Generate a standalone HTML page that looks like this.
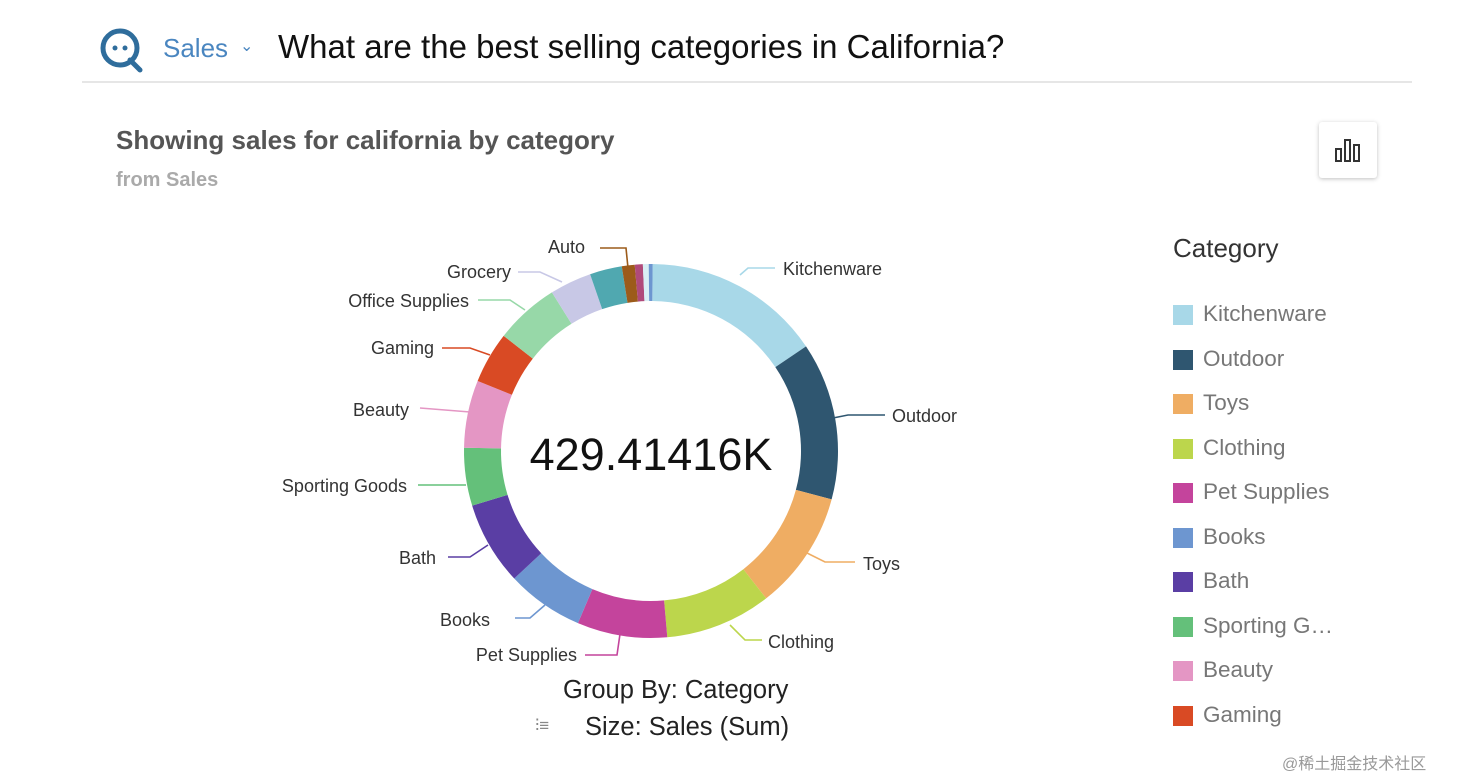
<!DOCTYPE html>
<html><head><meta charset="utf-8"><style>
body{margin:0;width:1474px;height:778px;background:#fff;font-family:"Liberation Sans","DejaVu Sans",sans-serif;position:relative;overflow:hidden}
.a{position:absolute;white-space:nowrap}
</style></head><body>
<svg class="a" style="left:98px;top:26px" width="52" height="50" viewBox="0 0 52 50">
<circle cx="22" cy="22" r="17" fill="none" stroke="#2f6d9c" stroke-width="5"/>
<line x1="32" y1="34" x2="42" y2="44" stroke="#2f6d9c" stroke-width="5" stroke-linecap="round"/>
<circle cx="17" cy="22" r="2.5" fill="#2f6d9c"/><circle cx="27" cy="22" r="2.5" fill="#2f6d9c"/>
</svg>
<div class="a" style="left:163px;top:33px;font-size:26px;color:#4a86c0">Sales</div>
<div class="a" style="left:240px;top:36px;font-size:16px;color:#4a86c0">⌄</div>
<div class="a" style="left:278px;top:28px;font-size:33px;color:#111">What are the best selling categories in California?</div>
<div class="a" style="left:82px;top:81px;width:1330px;height:2px;background:#e6e6e6"></div>
<div class="a" style="left:116px;top:125px;font-size:26px;font-weight:bold;color:#555">Showing sales for california by category</div>
<div class="a" style="left:116px;top:169px;font-size:20px;color:#aaa;font-weight:bold">from Sales</div>
<div class="a" style="left:1319px;top:122px;width:58px;height:56px;box-shadow:0 1px 4px rgba(0,0,0,.25);border-radius:3px;background:#fff"></div>
<svg class="a" style="left:1333px;top:137px" width="30" height="28"><g fill="none" stroke="#333" stroke-width="2"><rect x="3" y="12" width="5" height="12"/><rect x="12" y="3" width="5" height="21"/><rect x="21" y="8" width="5" height="16"/></g></svg>
<svg class="a" style="left:0;top:0" width="1474" height="778" id="s">
<g fill="none" stroke-width="1.6">
<path d="M740 275 L748 268 L775 268" stroke="#a8d8e8"/>
<path d="M833 418 L848 415 L885 415" stroke="#2f5670"/>
<path d="M805 552 L825 562 L855 562" stroke="#efad63"/>
<path d="M730 625 L745 640 L762 640" stroke="#bcd64c"/>
<path d="M620 634 L617 655 L585 655" stroke="#c4449c"/>
<path d="M545 605 L530 618 L515 618" stroke="#6d96d0"/>
<path d="M488 545 L470 557 L448 557" stroke="#5a3ea4"/>
<path d="M466 485 L418 485" stroke="#64c07a"/>
<path d="M470 412 L420 408" stroke="#e496c4"/>
<path d="M490 355 L470 348 L442 348" stroke="#d94a24"/>
<path d="M525 310 L510 300 L478 300" stroke="#97d8a8"/>
<path d="M562 282 L540 272 L518 272" stroke="#c8c8e6"/>
<path d="M628 268 L626 248 L600 248" stroke="#9c5b1a"/>
</g>
<g font-size="18" fill="#333" font-family="Liberation Sans,sans-serif">
<text x="783" y="275">Kitchenware</text><text x="892" y="422">Outdoor</text>
<text x="863" y="570">Toys</text><text x="768" y="648">Clothing</text>
<g text-anchor="end">
<text x="577" y="661">Pet Supplies</text><text x="490" y="626">Books</text>
<text x="436" y="564">Bath</text><text x="407" y="492">Sporting Goods</text>
<text x="409" y="416">Beauty</text><text x="434" y="354">Gaming</text>
<text x="469" y="307">Office Supplies</text><text x="511" y="278">Grocery</text>
<text x="585" y="253">Auto</text></g>
</g>
<text x="651" y="470" text-anchor="middle" font-size="45" fill="#111" font-family="Liberation Sans,sans-serif">429.41416K</text>
</svg>
<div class="a" style="left:563px;top:676px;font-size:25.5px;color:#222">Group By: Category</div>
<div class="a" style="left:535px;top:716px;font-size:17px;color:#888">⫶≡</div>
<div class="a" style="left:585px;top:713px;font-size:25.5px;color:#222">Size: Sales (Sum)</div>
<div class="a" style="left:1173px;top:233px;font-size:26px;color:#333">Category</div>
<div id="lg"></div>
<div class="a" style="left:1282px;top:750px;font-size:16px;color:#999;font-family:'Liberation Sans','Noto Sans CJK SC',sans-serif">@稀土掘金技术社区</div>
<script>
var cx=651,cy=451,R=187,r=150;
var seg=[[0.5,56,"#a8d8e8"],[56,105,"#2f5670"],[105,142,"#efad63"],[142,175,"#bcd64c"],[175,203,"#c4449c"],[203,227,"#6d96d0"],[227,253,"#5a3ea4"],[253,271,"#64c07a"],[271,292,"#e496c4"],[292,308,"#d94a24"],[308,328,"#97d8a8"],[328,341,"#c8c8e6"],[341,351,"#50a8b0"],[351,355,"#9c5b1a"],[355,357.5,"#b04a7a"],[357.5,359.3,"#d8eef4"],[359.3,360.5,"#6d96d0"]];
function p(a,rr){a=a*Math.PI/180;return [cx+rr*Math.sin(a),cy-rr*Math.cos(a)];}
var s=document.getElementById('s'),h='';
seg.forEach(function(g){var a=p(g[0],R),b=p(g[1],R),c=p(g[1],r),d=p(g[0],r),l=(g[1]-g[0])>180?1:0;
h+='<path d="M'+a+' A'+R+' '+R+' 0 '+l+' 1 '+b+' L'+c+' A'+r+' '+r+' 0 '+l+' 0 '+d+'Z" fill="'+g[2]+'"/>';});
s.insertAdjacentHTML('afterbegin',h);
var L=[["Kitchenware","#a8d8e8"],["Outdoor","#2f5670"],["Toys","#efad63"],["Clothing","#bcd64c"],["Pet Supplies","#c4449c"],["Books","#6d96d0"],["Bath","#5a3ea4"],["Sporting G…","#64c07a"],["Beauty","#e496c4"],["Gaming","#d94a24"]];
var o='';L.forEach(function(x,i){var y=315+i*44.5;
o+='<div class="a" style="left:1173px;top:'+(y-10)+'px;width:20px;height:20px;background:'+x[1]+'"></div><div class="a" style="left:1203px;top:'+(y-14)+'px;font-size:22.5px;color:#777">'+x[0]+'</div>';});
document.getElementById('lg').innerHTML=o;
</script>
</body></html>
